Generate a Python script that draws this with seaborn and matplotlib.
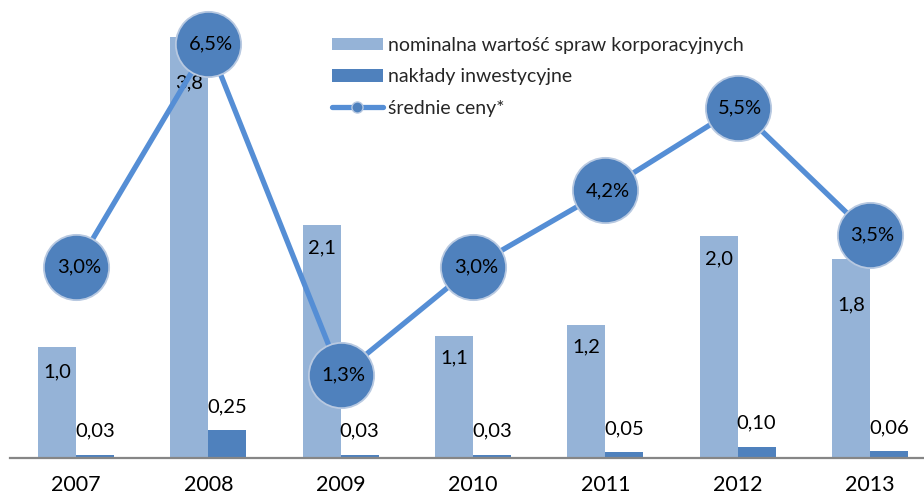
import numpy as np
import pandas as pd
import matplotlib
matplotlib.use("Agg")
import matplotlib.pyplot as plt
import seaborn as sns
from matplotlib.patches import Patch
from matplotlib.lines import Line2D

years = ["2007", "2008", "2009", "2010", "2011", "2012", "2013"]
nominal = [1.0, 3.8, 2.1, 1.1, 1.2, 2.0, 1.8]
invest = [0.03, 0.25, 0.03, 0.03, 0.05, 0.10, 0.06]
prices = [3.0, 6.5, 1.3, 3.0, 4.2, 5.5, 3.5]
series_names = ["nominalna wartość spraw korporacyjnych", "nakłady inwestycyjne", "średnie ceny*"]

c_light = "#95B3D7"
c_dark = "#4F81BD"
c_line = "#558ED5"

sns.set_theme(style="white")
plt.rcParams["font.family"] = ["Lato", "DejaVu Sans"]

W, H = 924, 498
fig = plt.figure(figsize=(W / 100, H / 100), dpi=100)
ax = fig.add_axes([10 / W, 40 / H, 914 / W, 458 / H])

df = pd.DataFrame({
    "year": years * 2,
    "value": nominal + invest,
    "series": [series_names[0]] * len(years) + [series_names[1]] * len(years),
})
sns.barplot(data=df, x="year", y="value", hue="series", order=years,
            hue_order=series_names[:2], palette=[c_light, c_dark],
            width=0.574, gap=0, dodge=True, ax=ax, legend=False,
            saturation=1, edgecolor="none")

ax.set_ylim(0, 458 / 110.8)
ax.set_xlim(-0.5, 6.5 - 12 / 132.4)
ax.set_xlabel("")
ax.set_ylabel("")
ax.set_yticks([])
for s in ["top", "left", "right"]:
    ax.spines[s].set_visible(False)
ax.spines["bottom"].set_color("#868686")
ax.spines["bottom"].set_linewidth(1.6)
ax.tick_params(axis="x", length=0, pad=12, labelsize=15.5, colors="black")

# bar labels
light_off = [-18, -33, -16, -16, -16, -16, -33]
bw = 0.287
for i, (n, v) in enumerate(zip(nominal, invest)):
    ax.annotate(f"{n:.1f}".replace(".", ","), (i - bw / 2, n), xytext=(0, light_off[i]),
                textcoords="offset points", ha="center", va="center", fontsize=14.5, color="black")
    ax.annotate(f"{v:.2f}".replace(".", ","), (i + bw / 2, v), xytext=(0, 17),
                textcoords="offset points", ha="center", va="center", fontsize=14.5, color="black")

ax2 = ax.twinx()
ax2.set_ylim(0, 458 / 63.7)
xpos = np.arange(len(years))
sns.lineplot(x=xpos, y=prices, ax=ax2, color=c_line, linewidth=3.8,
             marker="o", markersize=47, markerfacecolor=c_dark,
             markeredgecolor="#B8C9E1", markeredgewidth=1.3, zorder=3)
ax2.set_yticks([])
ax2.set_ylabel("")
for s in ["top", "left", "right", "bottom"]:
    ax2.spines[s].set_visible(False)
for i, p in enumerate(prices):
    ax2.annotate(f"{p:.1f}%".replace(".", ","), (i, p), xytext=(2, 0),
                 textcoords="offset points", ha="center", va="center",
                 fontsize=14.5, color="black", zorder=5)
ax2.set_xlim(ax.get_xlim())

handles = [
    Patch(facecolor=c_light, edgecolor="none"),
    Patch(facecolor=c_dark, edgecolor="none"),
    Line2D([0], [0], color=c_line, linewidth=3.8, marker="o", markersize=8,
           markerfacecolor=c_dark, markeredgecolor="#B8C9E1", markeredgewidth=1),
]
leg = ax2.legend(handles, series_names, loc="upper left",
                 bbox_to_anchor=(332 / W, 1 - 37 / H), bbox_transform=fig.transFigure,
                 frameon=False, fontsize=14, handlelength=2.6, handleheight=0.6,
                 handletextpad=0.3, labelspacing=0.74, borderaxespad=0, borderpad=0)
leg.set_zorder(10)

fig.savefig("out.png", dpi=100)
